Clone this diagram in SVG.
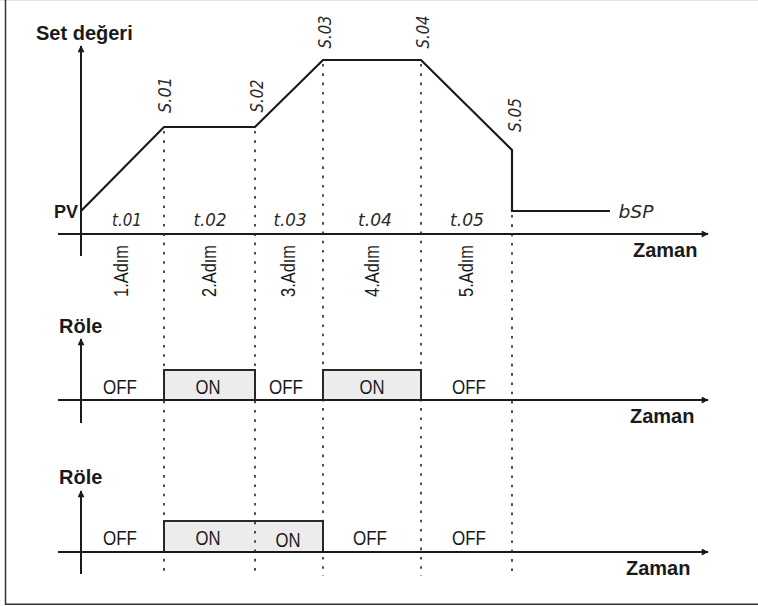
<svg xmlns="http://www.w3.org/2000/svg" width="758" height="606" viewBox="0 0 758 606">
<style>
.ax{stroke:#1a1a1a;stroke-width:2;fill:none}
.curve{stroke:#1a1a1a;stroke-width:2.2;fill:none;stroke-linejoin:miter}
.dot{stroke:#222;stroke-width:1.6;stroke-dasharray:2.6 6.7;fill:none}
.box{fill:#ececec;stroke:#2a2a2a;stroke-width:2}
.b{font-family:"Liberation Sans",Arial,sans-serif;font-weight:bold;fill:#1a1a1a}
.r{font-family:"Liberation Sans",Arial,sans-serif;fill:#1a1a1a;font-size:21px}
.seg{font-family:"DejaVu Sans","Liberation Sans",sans-serif;font-style:italic;fill:#2a2a2a;font-size:17px}
</style>
<defs>
<marker id="ah" viewBox="0 0 10 10" refX="9" refY="5" markerWidth="9" markerHeight="7" markerUnits="userSpaceOnUse" orient="auto">
<path d="M0,0 L10,5 L0,10 z" fill="#1a1a1a"/>
</marker>
</defs>
<rect width="758" height="606" fill="#fff"/>
<g id="frame">
<line x1="0" y1="0.5" x2="758" y2="0.5" stroke="#e2e2e2" stroke-width="1"/>
<line x1="5.5" y1="0" x2="5.5" y2="604.5" stroke="#333" stroke-width="1.5"/>
<line x1="5" y1="604.3" x2="758" y2="604.3" stroke="#333" stroke-width="1.5"/>
</g>
<g id="relay-boxes">
<rect id="on1a" class="box" x="164" y="370" width="91" height="30"/>
<rect id="on1b" class="box" x="323" y="370" width="98" height="30"/>
<rect id="on2" class="box" x="164" y="521" width="159" height="31"/>
</g>
<g id="connectors">
<line class="ax" x1="81" y1="256" x2="81" y2="46" marker-end="url(#ah)"/>
<line class="ax" x1="58" y1="234" x2="708" y2="234" marker-end="url(#ah)"/>
<line class="ax" x1="81" y1="423" x2="81" y2="339" marker-end="url(#ah)"/>
<line class="ax" x1="58" y1="400" x2="708" y2="400" marker-end="url(#ah)"/>
<line class="ax" x1="81" y1="574" x2="81" y2="491" marker-end="url(#ah)"/>
<line class="ax" x1="58" y1="552" x2="708" y2="552" marker-end="url(#ah)"/>
<polyline class="curve" points="81,211 164,127 255,127 323,60 421,60 512,150 512,211 610,211"/>
<line class="dot" x1="164" y1="131" x2="164" y2="576"/>
<line class="dot" x1="255" y1="131" x2="255" y2="576"/>
<line class="dot" x1="323" y1="64" x2="323" y2="576"/>
<line class="dot" x1="421" y1="64" x2="421" y2="576"/>
<line class="dot" x1="512" y1="215" x2="512" y2="576"/>
</g>
<g id="labels-chart">
<text class="b" x="36" y="40" font-size="20">Set değeri</text>
<text class="b" x="54" y="218" font-size="18">PV</text>
<text class="b" x="633" y="257" font-size="20">Zaman</text>
<text class="seg" x="127" y="226" text-anchor="middle" textLength="30" lengthAdjust="spacingAndGlyphs">t.01</text>
<text class="seg" x="210" y="226" text-anchor="middle" textLength="33" lengthAdjust="spacingAndGlyphs">t.02</text>
<text class="seg" x="290" y="226" text-anchor="middle" textLength="33" lengthAdjust="spacingAndGlyphs">t.03</text>
<text class="seg" x="375" y="226" text-anchor="middle" textLength="34" lengthAdjust="spacingAndGlyphs">t.04</text>
<text class="seg" x="467" y="226" text-anchor="middle" textLength="34" lengthAdjust="spacingAndGlyphs">t.05</text>
<text class="seg" x="636" y="218" text-anchor="middle" textLength="35" lengthAdjust="spacingAndGlyphs">bSP</text>
<text class="seg" transform="translate(171,95) rotate(-90)" text-anchor="middle" textLength="36" lengthAdjust="spacingAndGlyphs">S.01</text>
<text class="seg" transform="translate(263,96) rotate(-90)" text-anchor="middle" textLength="33" lengthAdjust="spacingAndGlyphs">S.02</text>
<text class="seg" transform="translate(331,32) rotate(-90)" text-anchor="middle" textLength="33" lengthAdjust="spacingAndGlyphs">S.03</text>
<text class="seg" transform="translate(429,32) rotate(-90)" text-anchor="middle" textLength="33" lengthAdjust="spacingAndGlyphs">S.04</text>
<text class="seg" transform="translate(521,115) rotate(-90)" text-anchor="middle" textLength="34" lengthAdjust="spacingAndGlyphs">S.05</text>
<text class="r" transform="translate(128,271) rotate(-90)" text-anchor="middle" textLength="52" lengthAdjust="spacingAndGlyphs">1.Adım</text>
<text class="r" transform="translate(216,271) rotate(-90)" text-anchor="middle" textLength="52" lengthAdjust="spacingAndGlyphs">2.Adım</text>
<text class="r" transform="translate(295,271) rotate(-90)" text-anchor="middle" textLength="52" lengthAdjust="spacingAndGlyphs">3.Adım</text>
<text class="r" transform="translate(379,271) rotate(-90)" text-anchor="middle" textLength="52" lengthAdjust="spacingAndGlyphs">4.Adım</text>
<text class="r" transform="translate(473,271) rotate(-90)" text-anchor="middle" textLength="52" lengthAdjust="spacingAndGlyphs">5.Adım</text>
</g>
<g id="relay1">
<text class="b" x="59" y="333" font-size="20">Röle</text>
<text class="b" x="630" y="423" font-size="20">Zaman</text>
<text class="r" x="120" y="394" text-anchor="middle" textLength="34" lengthAdjust="spacingAndGlyphs">OFF</text>
<text class="r" x="208" y="394" text-anchor="middle" textLength="25" lengthAdjust="spacingAndGlyphs">ON</text>
<text class="r" x="286" y="394" text-anchor="middle" textLength="34" lengthAdjust="spacingAndGlyphs">OFF</text>
<text class="r" x="372" y="394" text-anchor="middle" textLength="25" lengthAdjust="spacingAndGlyphs">ON</text>
<text class="r" x="469" y="394" text-anchor="middle" textLength="34" lengthAdjust="spacingAndGlyphs">OFF</text>
</g>
<g id="relay2">
<text class="b" x="59" y="484" font-size="20">Röle</text>
<text class="b" x="626" y="575" font-size="20">Zaman</text>
<text class="r" x="120" y="545" text-anchor="middle" textLength="34" lengthAdjust="spacingAndGlyphs">OFF</text>
<text class="r" x="208" y="545" text-anchor="middle" textLength="25" lengthAdjust="spacingAndGlyphs">ON</text>
<text class="r" x="288" y="547" text-anchor="middle" textLength="25" lengthAdjust="spacingAndGlyphs">ON</text>
<text class="r" x="370" y="545" text-anchor="middle" textLength="34" lengthAdjust="spacingAndGlyphs">OFF</text>
<text class="r" x="469" y="545" text-anchor="middle" textLength="34" lengthAdjust="spacingAndGlyphs">OFF</text>
</g>
</svg>
